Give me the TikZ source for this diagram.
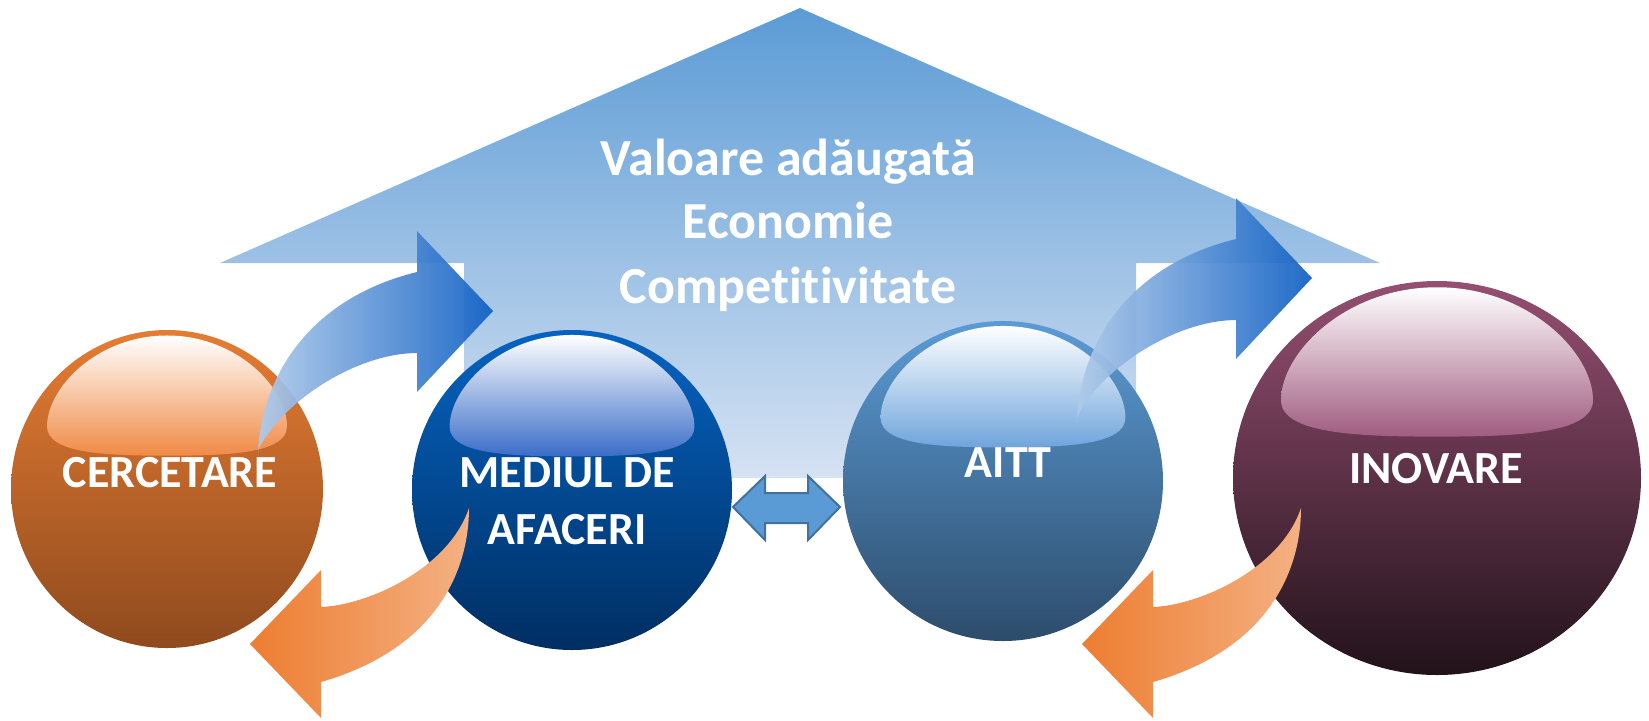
\documentclass[tikz,border=0pt]{standalone}
\usepackage{fontspec}
\setmainfont{Carlito}[Ligatures=NoCommon]
\usetikzlibrary{shapes.geometric}
\definecolor{houseTop}{HTML}{5B9BD5}
\definecolor{houseBot}{HTML}{D6E2F3}
\definecolor{cercTop}{HTML}{E57C33}
\definecolor{cercBot}{HTML}{8F4A1E}
\definecolor{cercHL}{HTML}{F08A45}
\definecolor{medTop}{HTML}{0563C1}
\definecolor{medBot}{HTML}{002E62}
\definecolor{medHL}{HTML}{3A6DC8}
\definecolor{aittTop}{HTML}{5B9BD5}
\definecolor{aittBot}{HTML}{2D4C6B}
\definecolor{aittHL}{HTML}{6FA5DC}
\definecolor{inovTop}{HTML}{954F72}
\definecolor{inovBot}{HTML}{22121A}
\definecolor{inovHL}{HTML}{A05C80}
\definecolor{blueA}{HTML}{B0CBEA}
\definecolor{blueM}{HTML}{8DAEE0}
\definecolor{blueB}{HTML}{1060C4}
\definecolor{orA}{HTML}{ED7D31}
\definecolor{orB}{HTML}{F4B183}
\definecolor{dblFill}{HTML}{5B9BD5}
\definecolor{dblLine}{HTML}{41719C}
\newcommand\glosscap[4]{%
  \begin{scope}[shift={#1}, xscale=#2, yscale=#3]
    \shade[top color=white, middle color=#4!40!white, bottom color=#4]
      (-120,-62) .. controls (-120,-100) and (-70,-152) .. (0,-152)
      .. controls (70,-152) and (120,-100) .. (120,-62)
      .. controls (120,-35) and (60,-33) .. (0,-33)
      .. controls (-60,-33) and (-120,-35) .. (-120,-62) -- cycle;
  \end{scope}}
\newcommand\bluecurve[1]{%
  \begin{scope}[shift={#1}]
    \shade[left color=blueA, middle color=blueM, right color=blueB, fill opacity=0.93]
      (0,0) .. controls (0,-75) and (45,-160) .. (159,-188)
      -- (159,-229) -- (235,-149) -- (159,-68) -- (159,-107)
      .. controls (100,-107) and (25,-60) .. (0,-10)
      -- cycle;
  \end{scope}}
\newcommand\orangecurve[1]{%
  \begin{scope}[shift={#1}]
    \shade[left color=orA, right color=orB]
      (0,0) .. controls (0,60) and (-30,140) .. (-148,174)
      -- (-148,210) -- (-219,136) -- (-148,62) -- (-148,99)
      .. controls (-100,97) and (-20,60) .. (0,0)
      -- cycle;
  \end{scope}}
\tikzset{
  bubble/.style={ellipse, inner sep=0pt, outer sep=0pt},
  lbl/.style={text=white, font=\bfseries\fontsize{23}{28.5}\selectfont, inner sep=0pt, anchor=base, align=center},
  ttl/.style={text=white, font=\bfseries\fontsize{26}{32}\selectfont, inner sep=0pt, anchor=base}
}
\begin{document}
\begin{tikzpicture}[x=0.5pt,y=-0.5pt]
\useasboundingbox (0,0) rectangle (1649,720);
% big upward arrow
\shade[top color=houseTop, bottom color=houseBot]
  (800,8) -- (1380,263) -- (1136,263) -- (1136,478) -- (464,478) -- (464,263) -- (220,263) -- cycle;
% title
\node[ttl] (t1) at (788,175) {Valoare adăugată};
\node[ttl] (t2) at (788,238) {Economie};
\node[ttl] (t3) at (788,303) {Competitivitate};
% spheres
\node[bubble, minimum width=156pt, minimum height=159pt, top color=cercTop, bottom color=cercBot] (cerc) at (167,489) {};
\node[bubble, minimum width=160pt, minimum height=160pt, top color=medTop, bottom color=medBot] (med) at (572,490) {};
\node[bubble, minimum width=160pt, minimum height=160pt, top color=aittTop, bottom color=aittBot] (aitt) at (1003,481) {};
\node[bubble, minimum width=204pt, minimum height=197pt, top color=inovTop, bottom color=inovBot] (inov) at (1437,478) {};
\glosscap{(167,489)}{1}{1.01}{cercHL}
\glosscap{(572,490)}{1.02}{1.02}{medHL}
\glosscap{(1003,481)}{1.02}{1.02}{aittHL}
\glosscap{(1437,478)}{1.30}{1.255}{inovHL}
% curved arrows
\bluecurve{(258,460)}
\bluecurve{(1077,427)}
\orangecurve{(469,508)}
\orangecurve{(1301,508)}
% double arrow
\filldraw[fill=dblFill, draw=dblLine, line width=1pt]
  (733,507) -- (765,476) -- (765,493) -- (808,493) -- (808,476) -- (840,507)
  -- (808,540) -- (808,523) -- (765,523) -- (765,540) -- cycle;
% labels
\node[lbl] (tcerc) at (170,487) {CERCETARE};
\node[lbl] (tmed) at (567,544) {MEDIUL DE\\AFACERI};
\node[lbl] (taitt) at (1008,477) {AITT};
\node[lbl] (tinov) at (1436,483) {INOVARE};
\end{tikzpicture}
\end{document}
